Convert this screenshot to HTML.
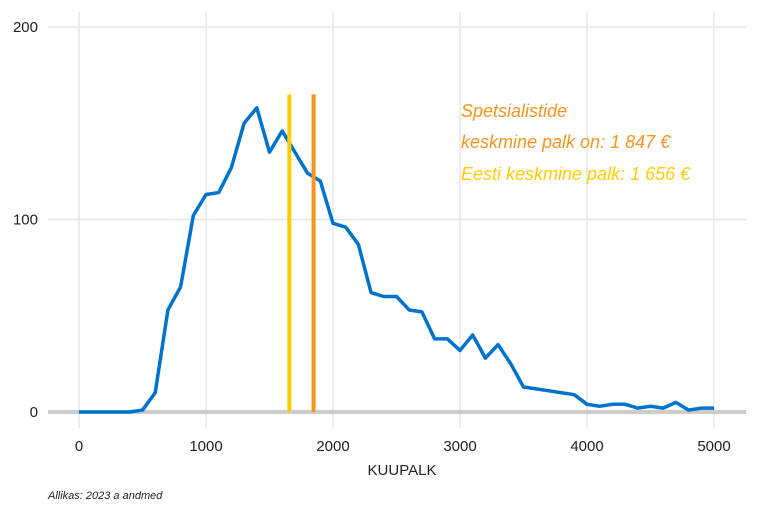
<!DOCTYPE html>
<html><head><meta charset="utf-8"><style>
body{margin:0;background:#fff;font-family:"Liberation Sans",sans-serif}
svg text{font-family:"Liberation Sans",sans-serif}
</style></head><body>
<svg width="768" height="512">
<g id="grid"></g><g id="marks"></g><g id="labels"></g>
<text x="402" y="475" text-anchor="middle" font-size="15" fill="#222">KUUPALK</text>
<text x="48" y="499" font-size="11" font-style="italic" fill="#222">Allikas: 2023 a andmed</text>
<text x="461" y="117" font-size="18" font-style="italic" fill="#f7941d">Spetsialistide</text>
<text x="461" y="148" font-size="18" font-style="italic" fill="#f7941d"> keskmine palk on: 1 847 €</text>
<text x="461" y="180" font-size="18" font-style="italic" fill="#ffcc00">Eesti keskmine palk: 1 656 €</text>
</svg>
<script>
const xs=[0,100,200,300,400,500,600,700,800,900,1000,1100,1200,1300,1400,1500,1600,1700,1800,1900,2000,2100,2200,2300,2400,2500,2600,2700,2800,2900,3000,3100,3200,3300,3400,3500,3600,3700,3800,3900,4000,4100,4200,4300,4400,4500,4600,4700,4800,4900,5000];
const counts=[0,0,0,0,0,1,10,53,65,102,113,114,127,150,158,135,146,135,124,120,98,96,87,62,60,60,53,52,38,38,32,40,28,35,25,13,12,11,10,9,4,3,4,4,2,3,2,5,1,2,2];
const xTicks=[0,1000,2000,3000,4000,5000];
const yTicks=[0,100,200];
const estoniaAvg=1656, specialistAvg=1847, refLineTop=165;
const X=v=>79+v*0.127, Y=v=>412-v*1.925;
const ns="http://www.w3.org/2000/svg";
function mk(t,a,p){const e=document.createElementNS(ns,t);for(const k in a)e.setAttribute(k,a[k]);p.appendChild(e);return e;}
const g=document.getElementById('grid'),m=document.getElementById('marks'),l=document.getElementById('labels');
xTicks.forEach(t=>{
 const e=mk('line',{x1:X(t),x2:X(t),y1:12,y2:428,stroke:'#e6e6e6','stroke-width':1.5},g);
 
 
 const tx=mk('text',{x:X(t),y:451,'text-anchor':'middle','font-size':15,fill:'#222'},l);tx.textContent=t;
 
 
});
yTicks.forEach(t=>{
 const e=mk('line',{x1:48,x2:746,y1:Y(t),y2:Y(t),stroke:'#e6e6e6','stroke-width':1.5},g);
 
 
 const tx=mk('text',{x:38,y:Y(t)+5,'text-anchor':'end','font-size':15,fill:'#222'},l);tx.textContent=t;
 
 
});
const base=mk('line',{x1:48,x2:746,y1:Y(0),y2:Y(0),stroke:'#cccccc','stroke-width':4},m);


const pl=mk('polyline',{points:xs.map((x,i)=>X(x)+','+Y(counts[i])).join(' '),fill:'none',stroke:'#0073cf','stroke-width':3.5,'stroke-linejoin':'round'},m);


const ye=mk('line',{x1:X(estoniaAvg),x2:X(estoniaAvg),y1:Y(refLineTop),y2:Y(0),stroke:'#ffcc00','stroke-width':4},m);


const sp=mk('line',{x1:X(specialistAvg),x2:X(specialistAvg),y1:Y(refLineTop),y2:Y(0),stroke:'#f7941d','stroke-width':4},m);


</script>
</body></html>
